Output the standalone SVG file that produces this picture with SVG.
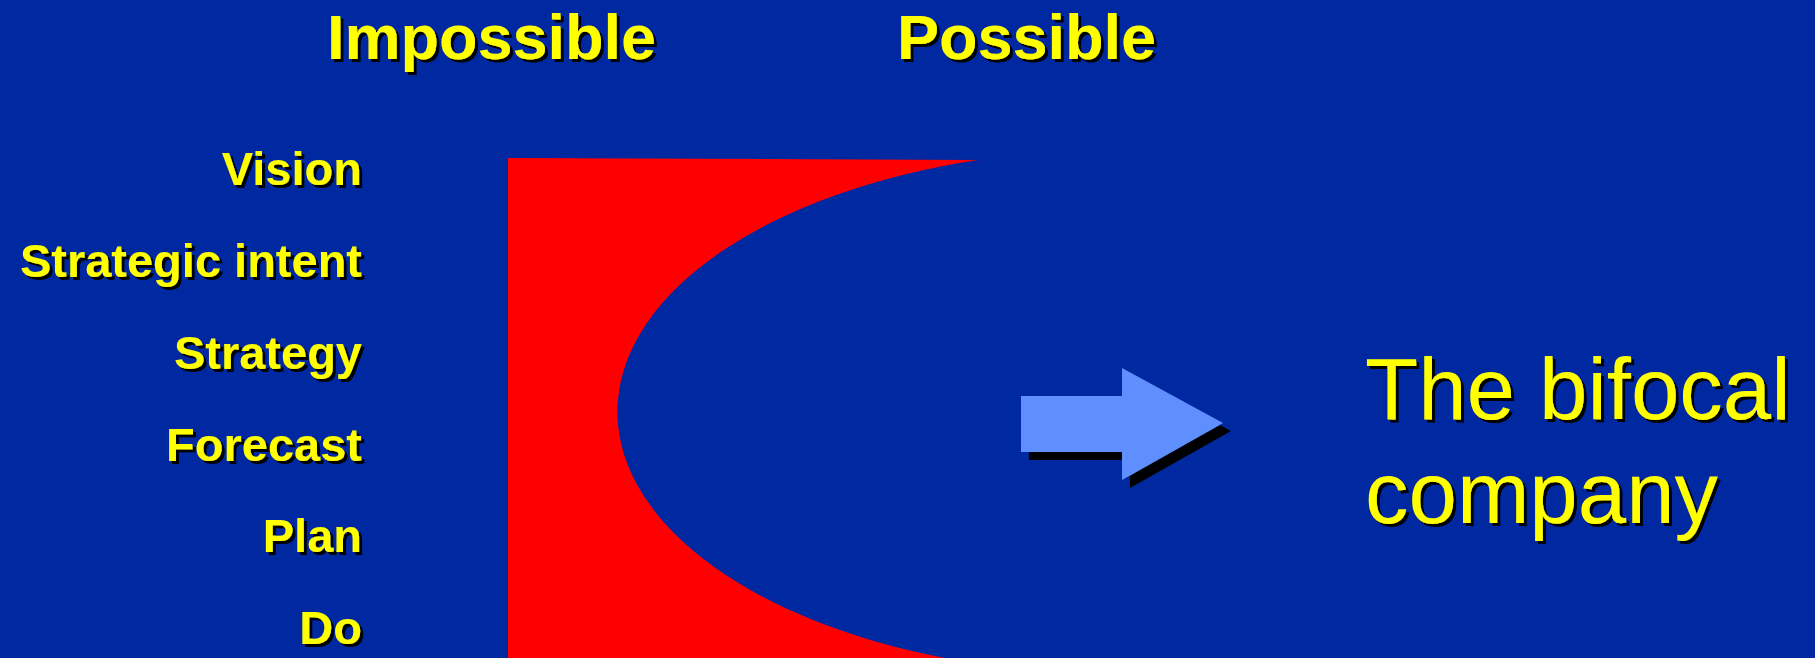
<svg xmlns="http://www.w3.org/2000/svg" width="1815" height="658" viewBox="0 0 1815 658">
  <defs>
    <filter id="ts" x="-5%" y="-10%" width="110%" height="130%">
      <feDropShadow dx="3" dy="3" stdDeviation="0" flood-color="#000000" flood-opacity="1"/>
    </filter>
    <filter id="as" x="-5%" y="-5%" width="115%" height="125%">
      <feDropShadow dx="8" dy="8" stdDeviation="0" flood-color="#000000" flood-opacity="1"/>
    </filter>
  </defs>
  <style>
    .bold { font-family: "Liberation Sans", Arial, sans-serif; font-weight: bold; fill: #ffff00; filter: url(#ts); }
    .head { font-size: 63px; }
    .lbl { font-size: 47px; text-anchor: end; }
    .big { font-family: "Liberation Sans", Arial, sans-serif; font-size: 87px; fill: #ffff00; filter: url(#ts); }
  </style>
  <rect x="0" y="0" width="1815" height="658" fill="#0029a1"/>

  <g id="headers">
    <text class="bold head" x="327" y="59">Impossible</text>
    <text class="bold head" x="897" y="59">Possible</text>
  </g>

  <g id="labels">
    <text class="bold lbl" x="362" y="185">Vision</text>
    <text class="bold lbl" x="362" y="277">Strategic intent</text>
    <text class="bold lbl" x="362" y="369">Strategy</text>
    <text class="bold lbl" x="362" y="461">Forecast</text>
    <text class="bold lbl" x="362" y="552">Plan</text>
    <text class="bold lbl" x="362" y="644">Do</text>
  </g>

  <g id="red-shape">
    <path d="M508,158 L978,160 A498,262 0 0 0 945,658 L508,658 Z" fill="#ff0000"/>
  </g>

  <g id="connectors">
    <path d="M1021,396 L1122,396 L1122,368 L1223,423 L1122,480 L1122,452 L1021,452 Z" fill="#5f8fff" filter="url(#as)"/>
  </g>

  <g id="title">
    <text class="big" x="1365" y="419">The bifocal</text>
    <text class="big" x="1365" y="523">company</text>
  </g>
</svg>
